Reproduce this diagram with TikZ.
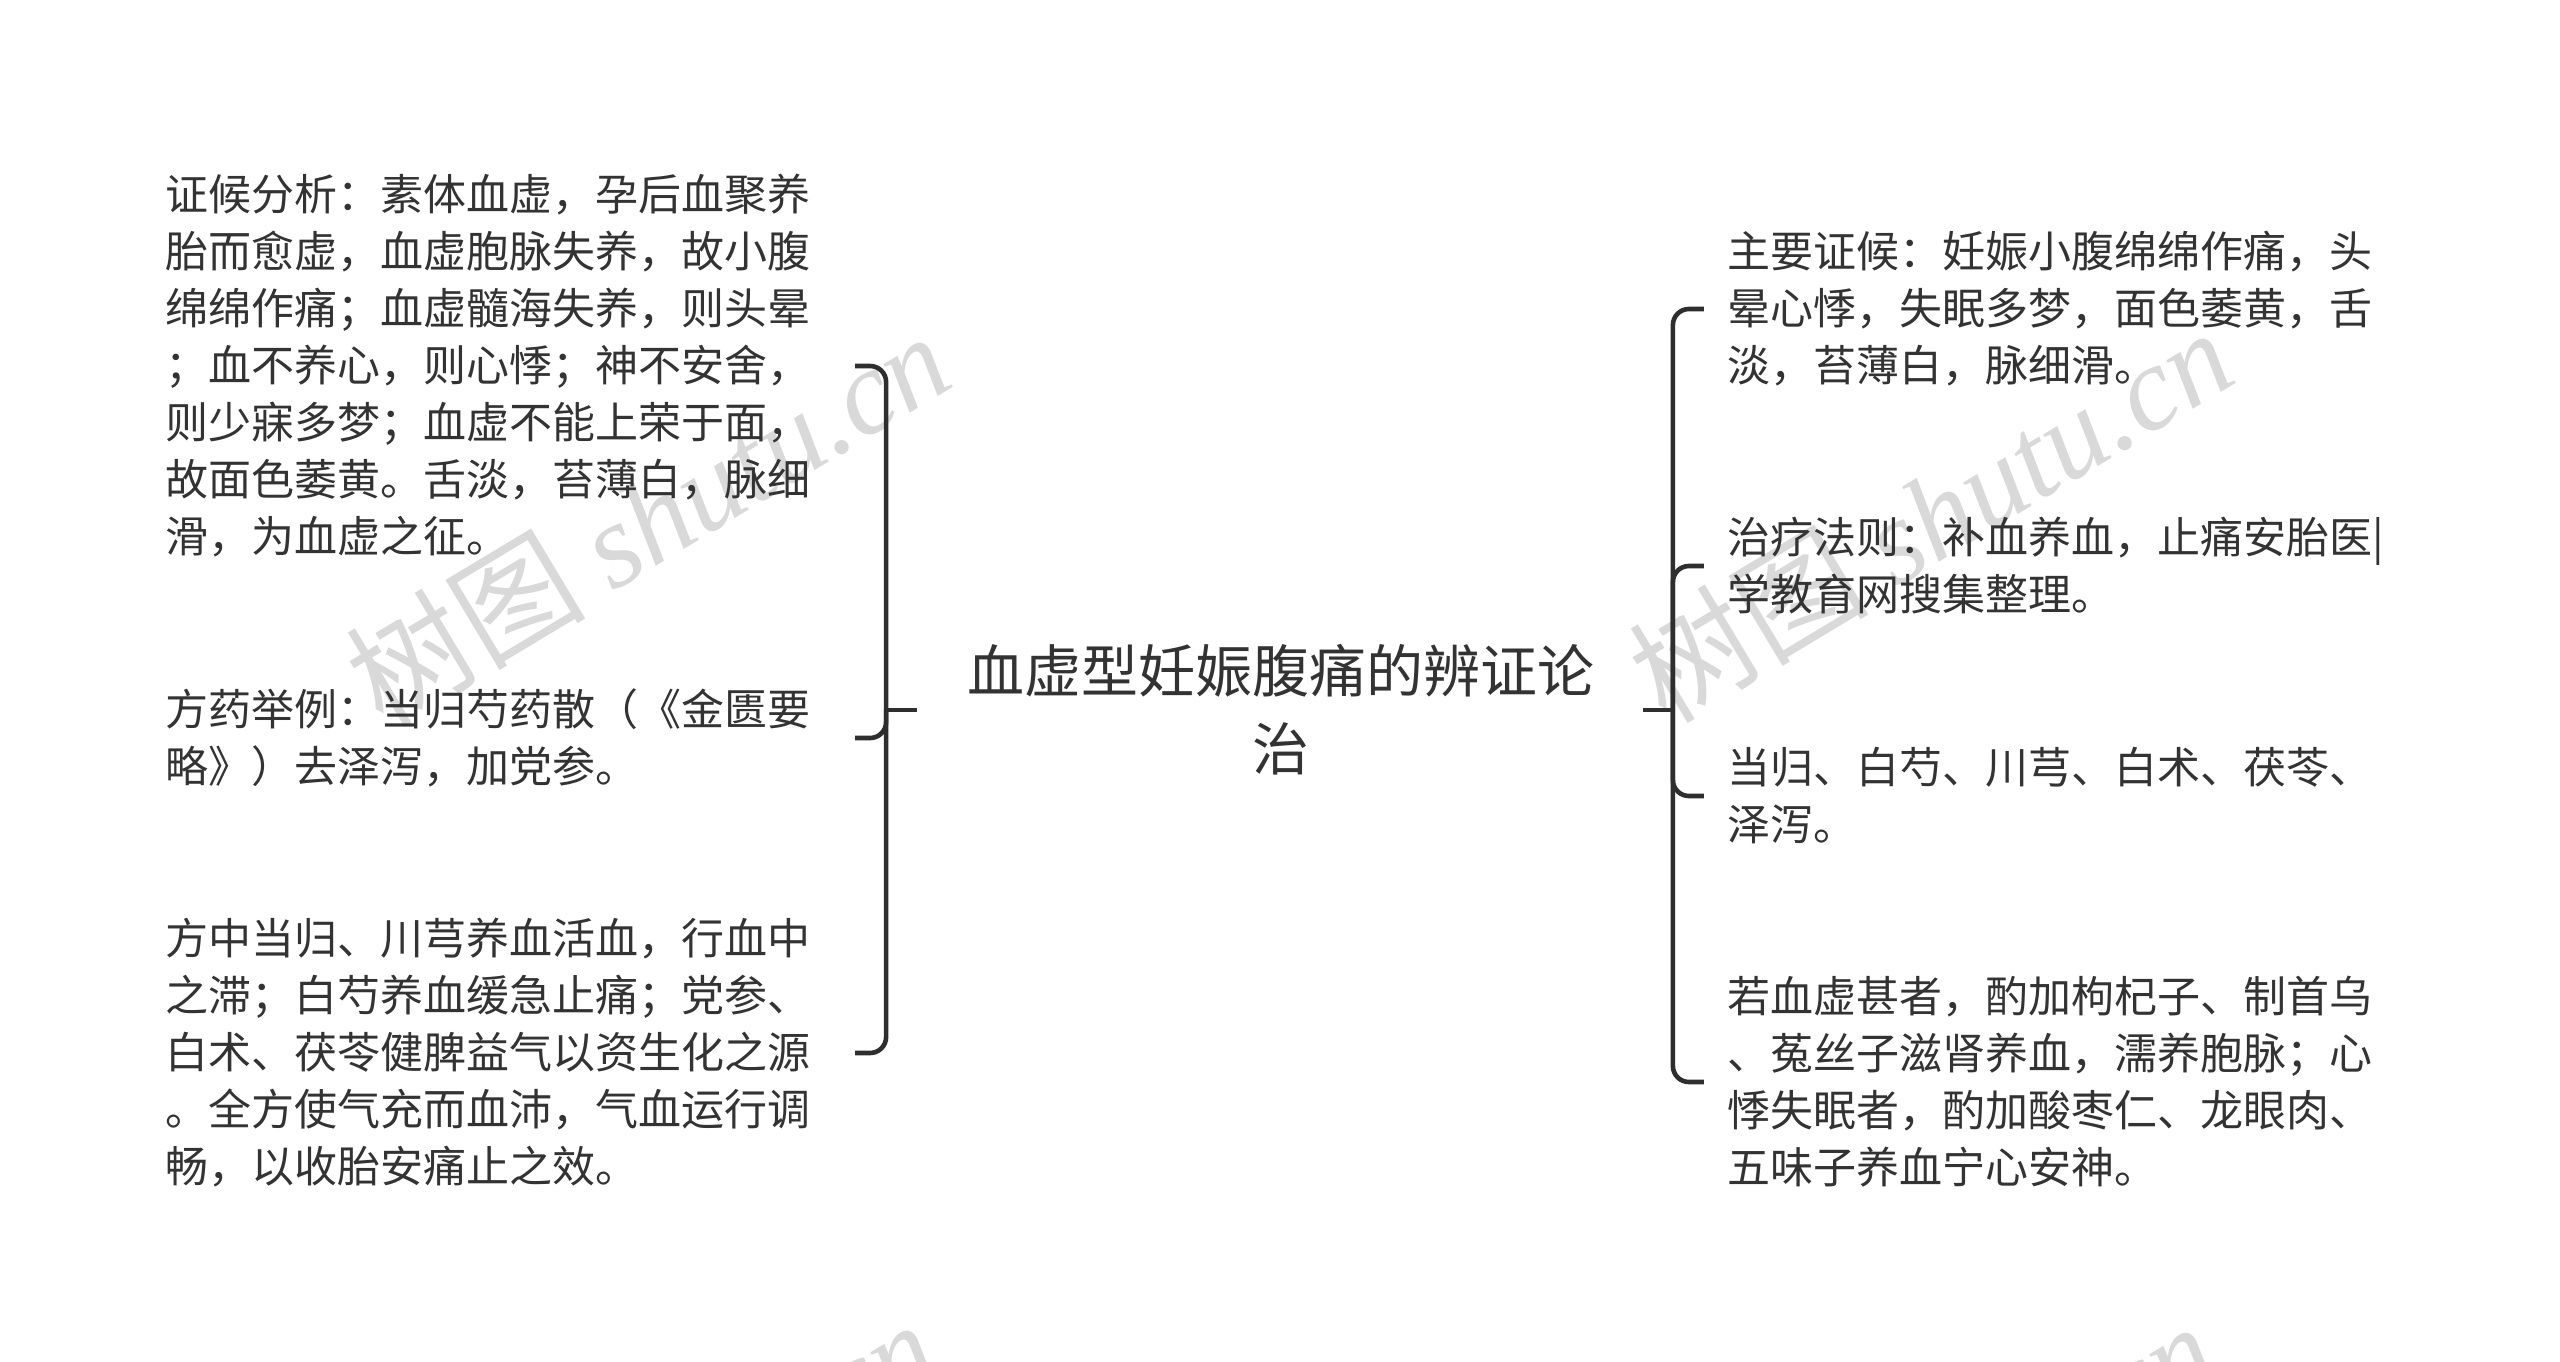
\documentclass[tikz,border=0pt]{standalone}
\usepackage{fontspec}
\newfontfamily\cjk{Noto Sans CJK SC}
\newfontfamily\wmlat{Liberation Serif}
\usetikzlibrary{calc}
\definecolor{txt}{HTML}{333333}
\definecolor{ln}{HTML}{2E2E2E}
\definecolor{wmc}{HTML}{D9D9D9}
\begin{document}
\begin{tikzpicture}[x=0.5pt,y=-0.5pt,
  leaf/.style={inner sep=0pt, align=left, text=txt, anchor=west,
    font=\cjk\fontsize{21.5pt}{28.5pt}\selectfont},
  title/.style={inner sep=0pt, align=center, text=txt,
    font=\cjk\fontsize{28.5pt}{39pt}\selectfont},
  brace/.style={draw=ln, line width=2.3pt, rounded corners=8pt},
  stub/.style={draw=ln, line width=2.3pt},
  wm/.style={text=wmc, rotate=31, inner sep=0pt,
    font=\fontsize{60pt}{60pt}\selectfont}]

\fill[white] (0,0) rectangle (2560,1361);
\useasboundingbox (0,0) rectangle (2560,1361);

% watermarks
\begin{scope}
\clip (0,0) rectangle (2560,1361);
\node[wm] (wm1) at (647,518) {\cjk 树图 \wmlat\itshape shutu.cn};
\node[wm] (wm2) at (1930,514) {\cjk 树图 \wmlat\itshape shutu.cn};
\node[wm] (wm3) at (634,1506) {\cjk 树图 \wmlat\itshape shutu.cn};
\node[wm] (wm4) at (1913,1508) {\cjk 树图 \wmlat\itshape shutu.cn};
\end{scope}

% root
\node[title] (root) at (1281,710) {血虚型妊娠腹痛的辨证论\\治};

% left leaves
\node[leaf] (L1) at (165,366) {证候分析：素体血虚，孕后血聚养\\胎而愈虚，血虚胞脉失养，故小腹\\绵绵作痛；血虚髓海失养，则头晕\\；血不养心，则心悸；神不安舍，\\则少寐多梦；血虚不能上荣于面，\\故面色萎黄。舌淡，苔薄白，脉细\\滑，为血虚之征。};
\node[leaf] (L2) at (165,738) {方药举例：当归芍药散（《金匮要\\略》）去泽泻，加党参。};
\node[leaf] (L3) at (165,1053) {方中当归、川芎养血活血，行血中\\之滞；白芍养血缓急止痛；党参、\\白术、茯苓健脾益气以资生化之源\\。全方使气充而血沛，气血运行调\\畅，以收胎安痛止之效。};

% right leaves
\node[leaf] (R1) at (1727,309) {主要证候：妊娠小腹绵绵作痛，头\\晕心悸，失眠多梦，面色萎黄，舌\\淡，苔薄白，脉细滑。};
\node[leaf] (R2) at (1727,566) {治疗法则：补血养血，止痛安胎医|\\学教育网搜集整理。};
\node[leaf] (R3) at (1727,796) {当归、白芍、川芎、白术、茯苓、\\泽泻。};
\node[leaf] (R4) at (1727,1082) {若血虚甚者，酌加枸杞子、制首乌\\、菟丝子滋肾养血，濡养胞脉；心\\悸失眠者，酌加酸枣仁、龙眼肉、\\五味子养血宁心安神。};

% left brace
\coordinate (ls) at ($(root.west)+(-50,0)$);
\coordinate (lv) at ($(root.west)+(-81,0)$);
\coordinate (lh) at ($(lv)+(-31,0)$);
\draw[stub] (ls) -- (lv);
\foreach \n in {L1,L2,L3} \draw[brace] (lv) |- (lh |- \n.east);

% right brace
\coordinate (rs) at ($(root.east)+(48,0)$);
\coordinate (rv) at ($(root.east)+(78,0)$);
\coordinate (rh) at ($(rv)+(31,0)$);
\draw[stub] (rs) -- (rv);
\foreach \n in {R1,R2,R3,R4} \draw[brace] (rv) |- (rh |- \n.west);
\end{tikzpicture}
\end{document}
